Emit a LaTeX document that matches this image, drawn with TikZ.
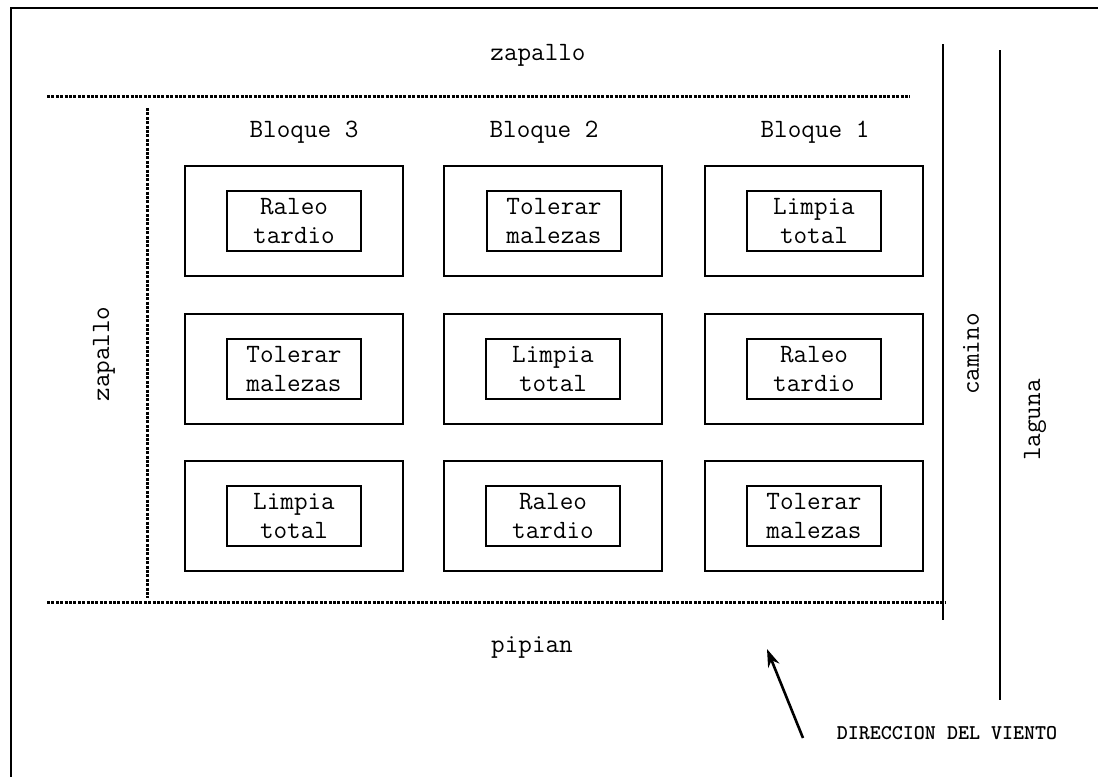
\documentclass[tikz,border=0pt]{standalone}
\usepackage{fontspec}
\usetikzlibrary{arrows.meta}
\newcommand{\typew}{\ttfamily\addfontfeatures{FakeStretch=1.1}}
\newcommand{\typewheavy}{\ttfamily\bfseries\addfontfeatures{FakeStretch=1.05}}
\begin{document}
\begin{tikzpicture}[x=0.5pt,y=-0.5pt,
  lbl/.style={font=\typew\fontsize{13.2pt}{14.5pt}\selectfont, inner sep=0pt},
  small/.style={font=\typewheavy\fontsize{10.5pt}{11pt}\selectfont, inner sep=0pt},
  plot/.style={draw, line width=1.1pt, minimum width=109pt, minimum height=55pt, inner sep=0pt},
  treat/.style={draw, line width=1.1pt, minimum width=67pt, minimum height=30pt, inner sep=0pt, align=center,
    font=\typew\fontsize{13.2pt}{14.5pt}\selectfont},
  border/.style={line width=1.2pt},
  dots/.style={line width=1.5pt, dash pattern=on 1.5pt off 0.7pt},
  road/.style={line width=1.3pt}]
\useasboundingbox (0,0) rectangle (1098,777);
\fill[white] (0,0) rectangle (1098,777);
% outer frame
\coordinate (tl) at (11,8);
\coordinate (tr) at (1098,8);
\coordinate (bl) at (11,777);
\draw[border] (tr) -- (tl) -- (bl);
% field boundaries
\coordinate (td1) at (47,96);  \coordinate (td2) at (910,96);
\coordinate (ld1) at (147,108); \coordinate (ld2) at (147,598);
\coordinate (bd1) at (47,602); \coordinate (bd2) at (945,602);
\draw[dots] (td1) -- (td2);
\draw[dots] (ld1) -- (ld2);
\draw[dots] (bd1) -- (bd2);
\coordinate (c1) at (943,44); \coordinate (c2) at (943,620);
\coordinate (g1) at (1000,50); \coordinate (g2) at (1000,700);
\draw[road] (c1) -- (c2);
\draw[road] (g1) -- (g2);
% labels
\node[lbl] (ztop) at (538,55) {zapallo};
\node[lbl] (pip) at (532,647) {pipian};
\node[lbl, rotate=90] (zleft) at (104,354) {zapallo};
\node[lbl, rotate=90] (cam) at (971,354) {camino};
\node[lbl, rotate=90] (lag) at (1035,420) {laguna};
\node[lbl] (b3) at (304,132) {Bloque 3};
\node[lbl] (b2) at (544,132) {Bloque 2};
\node[lbl] (b1) at (815,132) {Bloque 1};
% plots
\node[plot] (p11) at (294,221) {};
\node[plot] (p12) at (553,221) {};
\node[plot] (p13) at (814,221) {};
\node[plot] (p21) at (294,369) {};
\node[plot] (p22) at (553,369) {};
\node[plot] (p23) at (814,369) {};
\node[plot] (p31) at (294,516) {};
\node[plot] (p32) at (553,516) {};
\node[plot] (p33) at (814,516) {};
% treatments
\node[treat] (t11) at (p11) {Raleo\\tardio};
\node[treat] (t12) at (554,221) {Tolerar\\malezas};
\node[treat] (t13) at (p13) {Limpia\\total};
\node[treat] (t21) at (p21) {Tolerar\\malezas};
\node[treat] (t22) at (p22) {Limpia\\total};
\node[treat] (t23) at (p23) {Raleo\\tardio};
\node[treat] (t31) at (p31) {Limpia\\total};
\node[treat] (t32) at (p32) {Raleo\\tardio};
\node[treat] (t33) at (p33) {Tolerar\\malezas};
% wind direction
\coordinate (w1) at (803,738);
\coordinate (w2) at (767,649);
\draw[line width=1.3pt, -{Stealth[length=9pt,width=6pt]}] (w1) -- (w2);
\node[small] (viento) at (947,733) {DIRECCION DEL VIENTO};
\end{tikzpicture}
\end{document}
